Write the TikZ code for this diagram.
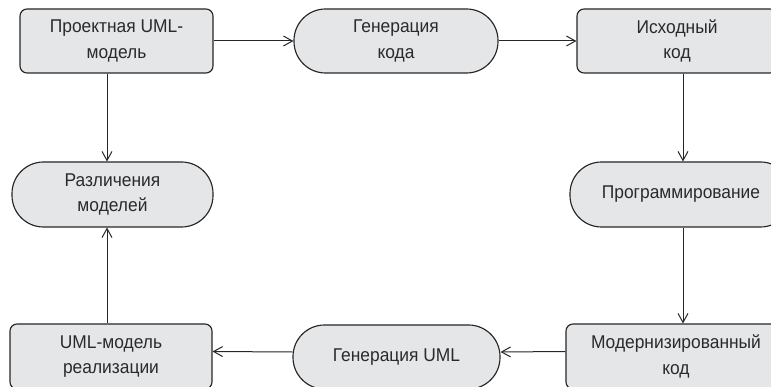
\documentclass[tikz,border=0pt]{standalone}
\usepackage{fontspec}
\setmainfont[FakeStretch=0.94]{Liberation Sans}
\usetikzlibrary{arrows.meta}
\definecolor{fillc}{HTML}{E5E6E7}
\definecolor{linec}{HTML}{262626}
\definecolor{textc}{HTML}{2A2A2A}
\tikzset{
  base/.style={draw=linec, fill=fillc, line width=1.15pt, inner sep=0pt, text=textc,
    align=center, font=\fontsize{18.5}{25.5}\selectfont},
  rbox/.style={base, rounded corners=7pt},
  stadium/.style={base, rounded corners=31.5pt},
  conn/.style={draw=linec, line width=1pt, -{Straight Barb[length=9pt,width=10pt]}}
}
\begin{document}
\begin{tikzpicture}[x=1pt, y=-1pt]
\useasboundingbox (0,0) rectangle (771,387);
\clip (0,0) rectangle (771,387);
\node[rbox, minimum width=193pt, minimum height=64pt] (b1) at (116.5,41) {Проектная UML-\\модель};
\node[stadium, minimum width=204pt, minimum height=64pt] (s2) at (396,41) {Генерация\\кода};
\node[rbox, minimum width=200pt, minimum height=64pt] (b3) at (677,41) {Исходный\\код};
\node[stadium, minimum width=201pt, minimum height=65pt] (s4) at (112.5,194.5) {Различения\\моделей};
\node[stadium, minimum width=222pt, minimum height=65pt] (s5) at (681,194.5) {Программирование};
\node[rbox, minimum width=202pt, minimum height=65pt] (b6) at (111,356.5) {UML-модель\\реализации};
\node[stadium, minimum width=207pt, minimum height=64pt] (s7) at (396.5,357) {Генерация UML};
\node[rbox, minimum width=220pt, minimum height=65pt] (b8) at (676,356.5) {Модернизированный\\код};
\coordinate (xl) at (107,0);
\coordinate (xr) at (683,0);
\draw[conn] (b1.east) -- (s2.west);
\draw[conn] (s2.east) -- (b3.west);
\draw[conn] (b3.south -| xr) -- (s5.north -| xr);
\draw[conn] (s5.south -| xr) -- (b8.north -| xr);
\draw[conn] ([yshift=5pt]b8.west) -- ([yshift=5pt]s7.east);
\draw[conn] ([yshift=5pt]s7.west) -- ([yshift=5pt]b6.east);
\draw[conn] (b6.north -| xl) -- (s4.south -| xl);
\draw[conn] (b1.south -| xl) -- (s4.north -| xl);
\end{tikzpicture}
\end{document}
